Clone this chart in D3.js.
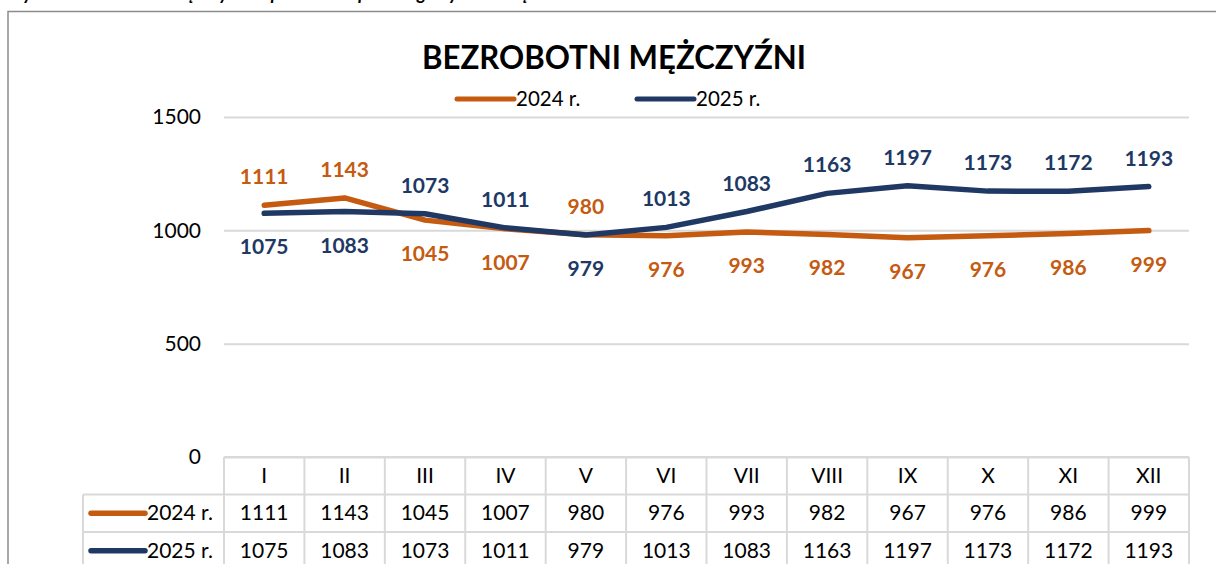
<!DOCTYPE html>
<html>
<head>
<meta charset="utf-8">
<script src="https://cdn.jsdelivr.net/npm/d3@7"></script>
<style>
  html, body { margin: 0; padding: 0; background: #fff; }
  svg { display: block; font-family: Lato, "Liberation Sans", sans-serif; }
</style>
</head>
<body>
<div id="chart"></div>
<script>
const months = ["I", "II", "III", "IV", "V", "VI", "VII", "VIII", "IX", "X", "XI", "XII"];
const values2024 = [1111, 1143, 1045, 1007, 980, 976, 993, 982, 967, 976, 986, 999];
const values2025 = [1075, 1083, 1073, 1011, 979, 1013, 1083, 1163, 1197, 1173, 1172, 1193];
const yTicks = [0, 500, 1000, 1500];

const series = [
  { name: "2024 r.", values: values2024, color: "#c55a11" },
  { name: "2025 r.", values: values2025, color: "#203864" },
];

const width = 1216;
const height = 564;
const plot = { left: 224, right: 1189, top: 117, bottom: 457 };
const rowH = 37.5;
const gridColor = "#d9d9d9";

const svg = d3.select("#chart")
  .append("svg")
  .attr("width", width)
  .attr("height", height);

// caption of the page above the chart, cut by the top edge
svg.append("text")
  .attr("x", 6)
  .attr("y", 0)
  .attr("font-size", 18)
  .attr("font-weight", "bold")
  .attr("font-style", "italic")
  .attr("fill", "#000")
  .text("Wykres 2. Bezrobotni mężczyźni w powiecie w poszczególnych miesiącach 2024 i 2025 roku");

// chart frame
svg.append("path")
  .attr("d", `M8,${height + 2} L8,11.5 L${width + 2},11.5`)
  .attr("fill", "none")
  .attr("stroke", "#8c8c8c")
  .attr("stroke-width", 1.5);

const x = d3.scaleBand()
  .domain(months)
  .range([plot.left, plot.right]);

const y = d3.scaleLinear()
  .domain([0, 1500])
  .range([plot.bottom, plot.top]);

// gridlines + y labels
const yAxis = d3.axisLeft(y)
  .tickValues(yTicks)
  .tickFormat(d3.format("d"))
  .tickSize(-(plot.right - plot.left))
  .tickPadding(23);

const gy = svg.append("g")
  .attr("transform", `translate(${plot.left},0)`)
  .call(yAxis);
gy.select(".domain").remove();
gy.selectAll(".tick line")
  .attr("stroke", gridColor)
  .attr("stroke-width", 2);
gy.selectAll(".tick text")
  .attr("font-size", 21)
  .attr("font-family", "Lato, sans-serif")
  .attr("fill", "#000");

// title
svg.append("text")
  .attr("x", 614)
  .attr("y", 69)
  .attr("text-anchor", "middle")
  .attr("font-size", 32)
  .attr("font-weight", "bold")
  .attr("textLength", 384)
  .attr("lengthAdjust", "spacingAndGlyphs")
  .attr("fill", "#000")
  .text("BEZROBOTNI MĘŻCZYŹNI");

// legend
const legend = svg.append("g").attr("transform", "translate(455,99)");
series.forEach((s, i) => {
  const g = legend.append("g").attr("transform", `translate(${i * 180},0)`);
  g.append("line")
    .attr("x1", 2).attr("x2", 59)
    .attr("stroke", s.color)
    .attr("stroke-width", 5)
    .attr("stroke-linecap", "round");
  g.append("text")
    .attr("x", 61)
    .attr("y", 7)
    .attr("font-size", 20.5)
    .attr("fill", "#000")
    .text(s.name);
});

// lines
const line = d3.line()
  .x((d, i) => x(months[i]) + x.bandwidth() / 2)
  .y((d) => y(d));

series.forEach((s) => {
  svg.append("path")
    .datum(s.values)
    .attr("fill", "none")
    .attr("stroke", s.color)
    .attr("stroke-width", 5.5)
    .attr("stroke-linecap", "round")
    .attr("stroke-linejoin", "round")
    .attr("d", line);
});

// data labels: the higher series above, the lower one below
series.forEach((s, si) => {
  const other = series[1 - si].values;
  svg.append("g")
    .selectAll("text")
    .data(s.values)
    .join("text")
    .attr("x", (d, i) => x(months[i]) + x.bandwidth() / 2)
    .attr("y", (d, i) => {
      const above = d > other[i] || (d === other[i] && si === 0);
      return above ? y(d) - 21 : y(d) + 41;
    })
    .attr("text-anchor", "middle")
    .attr("font-size", 21)
    .attr("font-weight", "bold")
    .attr("fill", s.color)
    .text((d) => d);
});

// data table
const table = svg.append("g");
const tableLeft = 83;
const rowsTop = plot.bottom + rowH;

table.append("line")
  .attr("x1", plot.left).attr("x2", plot.right)
  .attr("y1", plot.bottom).attr("y2", plot.bottom);
[rowsTop, rowsTop + rowH].forEach((ry) => {
  table.append("line")
    .attr("x1", tableLeft).attr("x2", plot.right)
    .attr("y1", ry).attr("y2", ry);
});
months.forEach((m) => {
  table.append("line")
    .attr("x1", x(m)).attr("x2", x(m))
    .attr("y1", plot.bottom).attr("y2", height + 2);
});
table.append("line")
  .attr("x1", plot.right).attr("x2", plot.right)
  .attr("y1", plot.bottom).attr("y2", height + 2);
table.append("line")
  .attr("x1", tableLeft).attr("x2", tableLeft)
  .attr("y1", rowsTop).attr("y2", height + 2);
table.selectAll("line")
  .attr("stroke", gridColor)
  .attr("stroke-width", 2);

// header (category labels)
table.append("g")
  .selectAll("text")
  .data(months)
  .join("text")
  .attr("x", (d) => x(d) + x.bandwidth() / 2)
  .attr("y", plot.bottom + rowH / 2 + 7)
  .attr("text-anchor", "middle")
  .attr("font-size", 21)
  .attr("fill", "#000")
  .text((d) => d);

// value rows
series.forEach((s, si) => {
  const rowY = rowsTop + si * rowH;
  const key = table.append("g").attr("transform", `translate(${tableLeft},${rowY + rowH / 2})`);
  key.append("line")
    .attr("x1", 8).attr("x2", 62)
    .attr("stroke", s.color)
    .attr("stroke-width", 5.5)
    .attr("stroke-linecap", "round");
  key.append("text")
    .attr("x", 64)
    .attr("y", 7)
    .attr("font-size", 21)
    .attr("fill", "#000")
    .text(s.name);

  table.append("g")
    .selectAll("text")
    .data(s.values)
    .join("text")
    .attr("x", (d, i) => x(months[i]) + x.bandwidth() / 2)
    .attr("y", rowY + rowH / 2 + 7)
    .attr("text-anchor", "middle")
    .attr("font-size", 21)
    .attr("fill", "#000")
    .text((d) => d);
});
</script>
</body>
</html>
